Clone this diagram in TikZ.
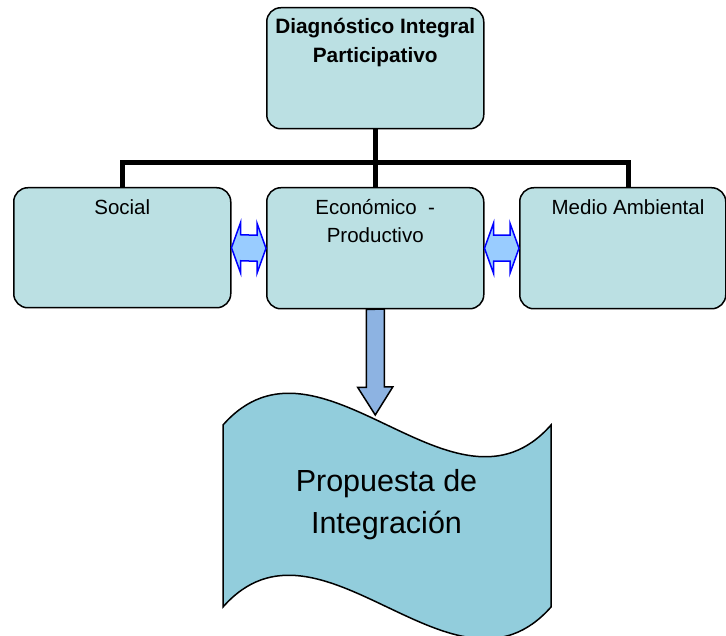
\documentclass[tikz,border=0pt]{standalone}
\usepackage{fontspec}
\setmainfont{Liberation Sans}
\usetikzlibrary{calc}
\definecolor{boxfill}{RGB}{187,224,227}
\definecolor{tapefill}{RGB}{146,205,220}
\definecolor{downfill}{RGB}{141,179,226}
\definecolor{dblfill}{RGB}{153,204,255}
\begin{document}
\begin{tikzpicture}[x=1pt,y=-1pt,
  box/.style={draw=black, line width=1.5pt, fill=boxfill, rounded corners=14pt,
    inner sep=0pt, anchor=north west, minimum height=121pt},
  boxtext/.style={anchor=base, inner sep=0pt, align=center,
    font=\fontsize{20.5}{28}\selectfont},
  toptext/.style={boxtext, font=\fontsize{20.8}{29}\selectfont\bfseries},
  link/.style={draw=black, line width=5pt, line join=miter},
  dbl/.style={draw=blue, fill=dblfill, line width=1.5pt, line join=miter},
  downarr/.style={draw=black, fill=downfill, line width=1.5pt, line join=miter},
  tape/.style={draw=black, fill=tapefill, line width=1.5pt},
  tapetext/.style={anchor=base, inner sep=0pt, align=center,
    font=\fontsize{30.5}{42}\selectfont}]
\useasboundingbox (0,0) rectangle (726,636);
\clip (0,0) rectangle (726,636);

% boxes
\node[box, minimum width=217pt] (top) at (266,7) {};
\node[box, minimum width=217pt, minimum height=120pt] (social) at (13,187) {};
\node[box, minimum width=217pt] (econ) at (266,187) {};
\node[box, minimum width=206pt] (env) at (519,187) {};

% texts (anchored at the baseline of their last line)
\node[toptext] (toplbl) at ($(top.north)+(0,55.5)$) {Diagnóstico Integral\\Participativo};
\node[boxtext] (sociallbl) at ($(social.north)+(0,27.5)$) {Social};
\node[boxtext] (econlbl) at ($(econ.north)+(0,55.5)$) {Económico\ \ -\\Productivo};
\coordinate (envtap) at (628,187);
\node[boxtext] (envlbl) at ($(envtap)+(0,27.5)$) {Medio Ambiental};

% tree connectors
\coordinate (bus) at (top.south |- 0,163);
\draw[link] (top.south) -- (econ.north);
\draw[link] (social.north) -- (social.north |- bus) -- (envtap |- bus) -- (envtap);

% double arrows
\draw[dbl] (social.east) -- ++(9,-25) -- ++(0,12) -- ($(econ.west)+(-9,-13)$)
  -- ++(0,-12) -- (econ.west) -- ++(-9,25) -- ++(0,-12)
  -- ($(social.east)+(9,13)$) -- ++(0,12) -- cycle;
\draw[dbl] (econ.east) -- ++(9,-25) -- ++(0,12) -- ($(env.west)+(-9,-13)$)
  -- ++(0,-12) -- (env.west) -- ++(-9,25) -- ++(0,-12)
  -- ($(econ.east)+(9,13)$) -- ++(0,12) -- cycle;

% punched tape
\draw[tape] (223,425) .. controls (320,315) and (454,535) .. (551,425)
  -- (551,607) .. controls (454,717) and (320,497) .. (223,607) -- cycle;
\node[tapetext] (prop) at (386.5,533) {Propuesta de\\Integración};

% down block arrow
\coordinate (tip) at (econ.south |- 0,415);
\draw[downarr] ($(econ.south)+(-9,0)$) -- ++(0,78) -- ++(-8.5,0) -- (tip)
  -- ++(17.5,-28) -- ++(-8.5,0) -- ++(0,-78) -- cycle;
\end{tikzpicture}
\end{document}
